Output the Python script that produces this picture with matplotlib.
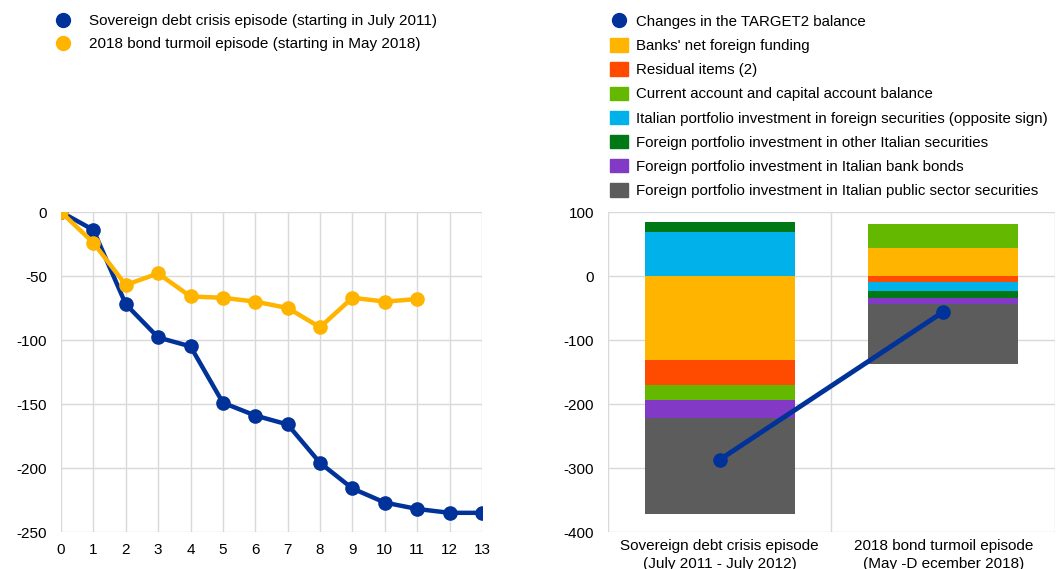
import matplotlib.pyplot as plt
from matplotlib.lines import Line2D
from matplotlib.patches import Patch
import numpy as np

plt.rcParams['font.family'] = ['Liberation Sans', 'DejaVu Sans']
plt.rcParams['font.size'] = 11
plt.rcParams['axes.unicode_minus'] = False

# left panel data
months = list(range(14))
sovereign = [0, -14, -72, -98, -105, -149, -159, -166, -196, -216, -227, -232, -235, -235]
turmoil = [0, -24, -57, -48, -66, -67, -70, -75, -90, -67, -70, -68]

# right panel data
episodes = ['Sovereign debt crisis episode\n(July 2011 - July 2012)',
            '2018 bond turmoil episode\n(May -D ecember 2018)']
banks = [-132, 44]
residual = [-39, -9]
current = [-22, 37]
ita_foreign = [68, -14]
other_ita = [16, -11]
bank_bonds = [-29, -10]
public_sec = [-150, -93]
target2 = [-287, -56]

names = ["Banks' net foreign funding", 'Residual items (2)',
         'Current account and capital account balance',
         'Italian portfolio investment in foreign securities (opposite sign)',
         'Foreign portfolio investment in other Italian securities',
         'Foreign portfolio investment in Italian bank bonds',
         'Foreign portfolio investment in Italian public sector securities']
colors = ['#FFB400', '#FF4B00', '#65B800', '#00B1EA', '#007816', '#8139C6', '#5C5C5C']
blue = '#003299'
yellow = '#FFB400'
grid = '#D9D9D9'

fig = plt.figure(figsize=(10.64, 5.69), dpi=100)

# ---- left chart
ax1 = fig.add_axes([0.0573, 0.065, 0.3957, 0.5624])
ax1.plot(months, sovereign, color=blue, lw=3.2, marker='o', ms=9.5, zorder=3)
ax1.plot(months[:len(turmoil)], turmoil, color=yellow, lw=3.2, marker='o', ms=9.5, zorder=4)
ax1.set_xlim(0, 13)
ax1.set_ylim(-250, 0)
ax1.set_xticks(months)
ax1.set_yticks(np.arange(-250, 1, 50))
ax1.grid(True, color=grid, lw=1)
ax1.set_axisbelow(True)
for s in ax1.spines.values():
    s.set_visible(False)
ax1.tick_params(length=0, pad=8)
ax1.tick_params(axis='y', pad=10)

h1 = [Line2D([], [], color=blue, marker='o', ls='', ms=10),
      Line2D([], [], color=yellow, marker='o', ls='', ms=10)]
fig.legend(h1, ['Sovereign debt crisis episode (starting in July 2011)',
                '2018 bond turmoil episode (starting in May 2018)'],
           loc='upper left', bbox_to_anchor=(0.038, 0.999), frameon=False,
           handletextpad=1.1, labelspacing=0.6, handlelength=1.2)

# ---- right chart
ax2 = fig.add_axes([0.5714, 0.065, 0.4201, 0.5624])
x = np.arange(len(episodes))
series = [banks, residual, current, ita_foreign, other_ita, bank_bonds, public_sec]
pos = np.zeros(len(episodes))
neg = np.zeros(len(episodes))
for vals, c in zip(series, colors):
    v = np.array(vals, dtype=float)
    bottom = np.where(v >= 0, pos, neg)
    ax2.bar(x, v, 0.67, bottom=bottom, color=c, zorder=2)
    pos = pos + np.where(v >= 0, v, 0)
    neg = neg + np.where(v < 0, v, 0)
ax2.plot(x, target2, color=blue, lw=3.5, marker='o', ms=9.5, zorder=3)
ax2.set_xlim(-0.5, 1.5)
ax2.set_ylim(-400, 100)
ax2.set_yticks(np.arange(-400, 101, 100))
ax2.set_xticks(x)
ax2.set_xticklabels(episodes, linespacing=1.35)
ax2.yaxis.grid(True, color=grid, lw=1)
for xv in [-0.5, 0.5, 1.5]:
    ax2.axvline(xv, color=grid, lw=1, zorder=0)
for s in ax2.spines.values():
    s.set_visible(False)
ax2.tick_params(length=0)
ax2.tick_params(axis='y', pad=10)
ax2.tick_params(axis='x', pad=5)

h2 = [Line2D([], [], color=blue, marker='o', ls='', ms=10)]
h2 += [Patch(color=c) for c in colors]
fig.legend(h2, ['Changes in the TARGET2 balance'] + names,
           loc='upper left', bbox_to_anchor=(0.561, 0.999), frameon=False,
           fontsize=10.8, handletextpad=0.5, labelspacing=0.62,
           handlelength=1.2, handleheight=1.0)

fig.savefig('out.png', dpi=100)
